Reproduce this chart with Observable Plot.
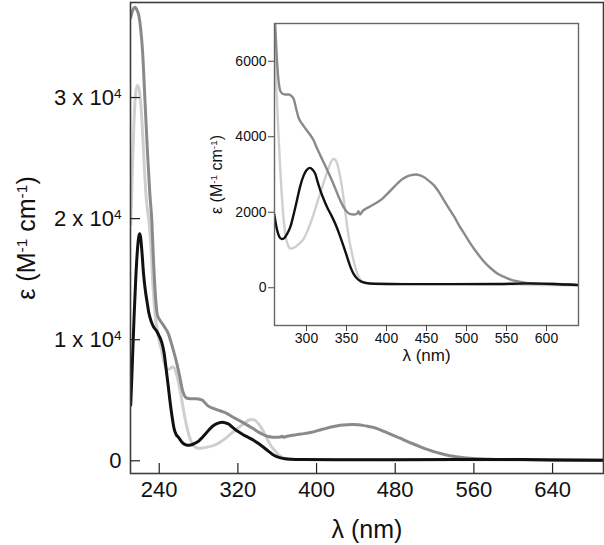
<!DOCTYPE html>
<html><head><meta charset="utf-8">
<script src="https://cdn.jsdelivr.net/npm/d3@7"></script>
<script src="https://cdn.jsdelivr.net/npm/@observablehq/plot@0.6"></script>
<style>
body{margin:0;background:#fff;}
#wrap{position:relative;width:604px;height:545px;overflow:hidden;font-family:"Liberation Sans",Arial,Helvetica,sans-serif;}
#main{position:absolute;left:0;top:0;}
#inset{position:absolute;left:204px;top:8px;}
</style></head><body>
<div id="wrap"><div id="main"></div><div id="inset"></div></div>
<script>
// ---- data ----
const lambdaDark = [211,213,215.5,217.5,219.5,221,223,225.5,228,230.5,232.5,234,236,238,240,242.5,245,249.5,252,254.5,258,261,263,265,267,270,274,278,281,284,287,290,295,300.7,305,309,313,317.4,323,330,335,340.4,346,351,355,359,363,365,367,370,374,380,388.6,395,401,407,413.8,420,426,431,436.8,442,447,453,459.7,466,472,478,485,491,497.4,505,514,522,531,539,547.7,556,564.5,575,585,606,640,665,692];
const epsDark = [36600,37200,37450,37200,36700,35800,33900,29800,25600,22000,19800,16900,13800,12100,11700,11400,11100,10450,9800,9100,8000,6900,6050,5500,5230,5140,5120,5120,5080,5000,4750,4510,4330,4160,4040,3900,3700,3500,3250,2926,2680,2400,2150,2000,1950,1940,1960,2030,1940,2030,2090,2160,2265,2360,2487,2620,2767,2880,2952,2985,3000,2975,2926,2830,2706,2520,2310,2100,1868,1640,1428,1170,900,690,503,370,280,210,167,130,106,100,80,60,50];

const lambdaBlack = [211,212,213,214.5,216,217.5,219,220,221,222.5,224,226,227.5,229.5,231.5,234,237.5,240,242.5,245,247,249,251,253,255,257,260,263,266,269,272,275,279.7,284,288,292,296.4,300,304,307.5,311,314,317.4,321,325.8,331,336,341,346.7,351,355,359,363.5,368,374,385,420,480,540,580,610,640,692];
const epsBlack = [4600,6600,8800,12000,14800,17000,18400,18750,18500,17200,15500,14000,13200,12200,11600,11100,10700,10300,9800,8900,7600,6300,4900,3700,2700,2200,1900,1550,1350,1290,1310,1400,1603,1950,2310,2680,2971,3110,3175,3130,3016,2800,2574,2370,2132,1920,1693,1420,1074,800,545,360,238,170,130,105,95,95,100,115,100,70,50];

const lambdaLight = [211,212,213,214.5,216,217.8,219.5,221,223,225,227,229.5,231.5,234,236,238,240,242.5,245,247.5,250,253,255,257,259,261,263,265,267,269,271,273,275,277,280,284,290,296.4,303,309,314,319.5,324,328,331,333.5,336,338.5,342,345,348,351,354,357,360,363.5,367,370,375,400,500,560,600,640,692];
const epsLight = [19500,22000,25000,28300,30300,31000,30700,29700,27300,24000,21500,19800,17800,14000,12000,10800,9900,9100,8100,7600,7550,7750,7700,7300,6700,5900,5000,4050,3200,2500,1900,1500,1250,1120,1040,1060,1150,1296,1600,1958,2300,2660,2950,3190,3350,3413,3390,3280,2950,2574,2100,1603,1200,900,620,370,220,150,110,100,95,90,70,60,45];

const seriesNames = ["light", "dark", "black"];
const seriesColors = ["#cfcfcf", "#8a8a8a", "#111111"];

const mainXTicks = [240, 320, 400, 480, 560, 640];
const mainYTicks = [0, 10000, 20000, 30000];
const insetXTicks = [300, 350, 400, 450, 500, 550, 600];
const insetYTicks = [0, 2000, 4000, 6000];
const mainXDomain = [210.8, 691.8];
const mainYDomain = [-1050, 37850];
const insetXDomain = [260, 640];
const insetYDomain = [-1000, 7000];
const xLabel = "λ (nm)";
const yLabel = "ε (M^-1^ cm^-1^)";

// ---- build table ----
const rows = [];
[[lambdaLight, epsLight], [lambdaDark, epsDark], [lambdaBlack, epsBlack]].forEach(([lx, ey], s) => {
  lx.forEach((l, i) => rows.push({series: seriesNames[s], lambda: l, eps: ey[i]}));
});
const colorScale = {domain: seriesNames, range: seriesColors};
const FONT = '"Liberation Sans", Arial, Helvetica, sans-serif';

function supify(root){
  root.querySelectorAll("text").forEach(t => {
    const targets = t.querySelector("tspan") ? [...t.querySelectorAll("tspan")] : [t];
    targets.forEach(n => {
      const s = n.textContent;
      if (!s.includes("^")) return;
      const parts = s.split("^");
      n.textContent = "";
      parts.forEach((p, i) => {
        if (!p) return;
        const ts = document.createElementNS("http://www.w3.org/2000/svg", "tspan");
        ts.textContent = p;
        if (i % 2 === 1) { ts.setAttribute("baseline-shift", "super"); ts.setAttribute("font-size", "62%"); }
        n.appendChild(ts);
      });
    });
  });
}

// ---- main chart ----
const W = 604, H = 545, mL = 130, mT = 2, mR = 1, mB = 72;
const innerW = W - mL - mR, innerH = H - mT - mB;
const main = Plot.plot({
  width: W, height: H, marginLeft: mL, marginTop: mT, marginRight: mR, marginBottom: mB,
  style: {fontFamily: FONT, background: "transparent", color: "#111", overflow: "visible"},
  x: {domain: mainXDomain},
  y: {domain: mainYDomain},
  color: colorScale,
  marks: [
    Plot.line(rows, {x: "lambda", y: "eps", z: "series", stroke: "series", strokeWidth: 3, curve: "monotone-x", clip: true}),
    Plot.frame({stroke: "#3c3c3c", strokeWidth: 1.6}),
    Plot.tickY(mainYTicks, {y: d => d, stroke: "#222", strokeWidth: 1.2, insetRight: innerW - 10}),
    Plot.tickX(mainXTicks, {x: d => d, stroke: "#222", strokeWidth: 1.2, insetTop: innerH - 10}),
    Plot.axisY(mainYTicks, {tickSize: 0, tickPadding: 9, fontSize: 22, label: null,
      tickFormat: d => d === 0 ? "0" : `${d / 1e4} x 10^4^`}),
    Plot.axisX(mainXTicks, {tickSize: 0, tickPadding: 8, fontSize: 22, label: null}),
    Plot.text([xLabel], {text: d => d, frameAnchor: "bottom", dy: 56, fontSize: 25, textAnchor: "middle", lineAnchor: "middle", fill: "#111"}),
    Plot.text([yLabel], {text: d => d, frameAnchor: "left", dx: -104, rotate: -90, fontSize: 25, textAnchor: "middle", lineAnchor: "middle", fill: "#111"})
  ]
});
supify(main);
document.getElementById("main").appendChild(main);

// ---- inset chart ----
const iW = 380, iH = 360, iL = 70, iT = 15, iR = 6, iB = 43;
const inset = Plot.plot({
  width: iW, height: iH, marginLeft: iL, marginTop: iT, marginRight: iR, marginBottom: iB,
  style: {fontFamily: FONT, background: "transparent", color: "#111", overflow: "visible"},
  x: {domain: insetXDomain},
  y: {domain: insetYDomain},
  color: colorScale,
  marks: [
    Plot.line(rows, {x: "lambda", y: "eps", z: "series", stroke: "series", strokeWidth: 2.4, curve: "monotone-x", clip: true}),
    Plot.frame({stroke: "#666", strokeWidth: 1.4}),
    Plot.axisY(insetYTicks, {tickSize: 6, tickPadding: 2, fontSize: 14, label: null, stroke: "#444", tickFormat: d => String(d)}),
    Plot.axisX(insetXTicks, {tickSize: 6, tickPadding: 2, fontSize: 14, label: null, stroke: "#444", tickFormat: d => String(d)}),
    Plot.text([xLabel], {text: d => d, frameAnchor: "bottom", dy: 30, fontSize: 17, textAnchor: "middle", lineAnchor: "middle", fill: "#111"}),
    Plot.text([yLabel], {text: d => d, frameAnchor: "left", dx: -58, rotate: -90, fontSize: 16, textAnchor: "middle", lineAnchor: "middle", fill: "#111"})
  ]
});
supify(inset);
document.getElementById("inset").appendChild(inset);
</script>
</body></html>
